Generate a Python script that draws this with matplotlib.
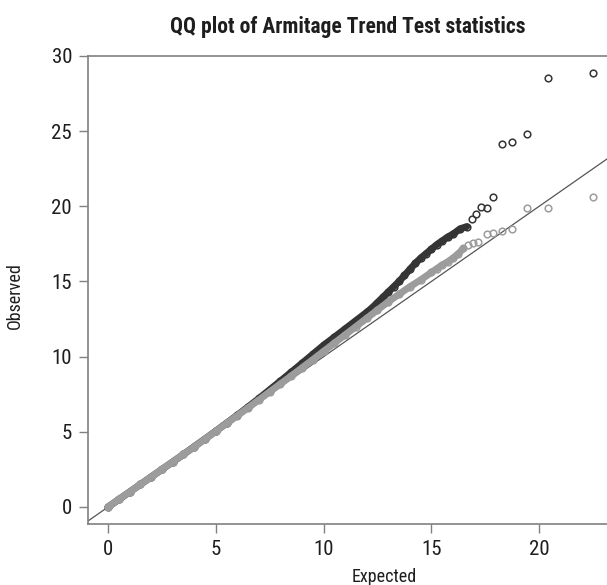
import matplotlib
matplotlib.use("Agg")
import matplotlib.pyplot as plt

plt.rcParams["font.family"] = ["Roboto Condensed", "DejaVu Sans"]

# Serie oscura (esperado, observado)
dark_expected = [0.0, 0.5, 1.0, 1.5, 2.0, 2.5, 3.0, 3.5, 4.0, 4.5, 5.0, 5.5, 6.0, 6.5,
                 7.0, 7.5, 8.0, 8.5, 9.0, 9.5, 10.0, 10.5, 11.0, 11.5, 12.0, 12.25,
                 12.5, 12.75, 13.0, 13.25, 13.5, 13.75, 14.0, 14.25, 14.5, 14.75, 15.0,
                 15.25, 15.5, 15.75, 16.0, 16.33, 16.64, 16.88, 17.08, 17.29, 17.57,
                 17.88, 18.28, 18.76, 19.43, 20.43, 22.49]
dark_observed = [0.0, 0.5, 1.0, 1.5, 2.0, 2.5, 3.0, 3.5, 4.02, 4.53, 5.05, 5.58, 6.11, 6.66,
                 7.22, 7.8, 8.38, 8.97, 9.56, 10.16, 10.76, 11.3, 11.85, 12.4, 12.95, 13.25,
                 13.6, 13.95, 14.3, 14.65, 15.0, 15.4, 15.8, 16.2, 16.55, 16.85, 17.15,
                 17.45, 17.7, 17.95, 18.15, 18.5, 18.65, 19.14, 19.47, 19.98, 19.91,
                 20.65, 24.13, 24.26, 24.82, 28.52, 28.86]
dark_dense = 43  # puntos que forman la banda continua

# Serie gris
gray_expected = [0.0, 0.5, 1.0, 1.5, 2.0, 2.5, 3.0, 3.5, 4.0, 4.5, 5.0, 5.5, 6.0, 6.5,
                 7.0, 7.5, 8.0, 8.5, 9.0, 9.5, 10.0, 10.5, 11.0, 11.5, 12.0, 12.5,
                 13.0, 13.5, 14.0, 14.5, 15.0, 15.25, 15.5, 15.75, 16.0, 16.25, 16.49,
                 16.72, 16.95, 17.18, 17.57, 17.88, 18.28, 18.76, 19.43, 20.40, 22.49]
gray_observed = [0.0, 0.5, 1.0, 1.5, 2.0, 2.5, 3.0, 3.5, 4.0, 4.52, 5.04, 5.56, 6.08, 6.6,
                 7.13, 7.66, 8.19, 8.72, 9.26, 9.8, 10.35, 10.9, 11.45, 12.0, 12.55, 13.1,
                 13.65, 14.15, 14.65, 15.1, 15.6, 15.85, 16.1, 16.3, 16.55, 16.85, 17.2,
                 17.43, 17.58, 17.62, 18.18, 18.21, 18.36, 18.48, 19.91, 19.91, 20.65]
gray_dense = 37

x_ticks = [0, 5, 10, 15, 20]
y_ticks = [0, 5, 10, 15, 20, 25, 30]

dark = "#353535"
gray = "#9c9c9c"
axis_gray = "#808080"
text_col = "#1e1e1e"

fig = plt.figure(figsize=(6.07, 5.85), dpi=100)
ax = fig.add_axes([0.145, 0.1043, 0.855, 0.8])

# linea de referencia y = x
ax.plot([-1, 24], [-1, 24], color="#555555", lw=0.9, zorder=1)

# banda densa + puntos
ax.plot(dark_expected[:dark_dense], dark_observed[:dark_dense], color=dark, lw=5,
        solid_capstyle="round", zorder=2)
ax.plot(dark_expected, dark_observed, "o", mfc="none", mec=dark, ms=4.8, mew=1.1, zorder=2)
ax.plot(gray_expected[:gray_dense], gray_observed[:gray_dense], color=gray, lw=5,
        solid_capstyle="round", zorder=3)
ax.plot(gray_expected, gray_observed, "o", mfc="none", mec=gray, ms=4.8, mew=1.1, zorder=3)

ax.set_xlim(-0.93, 23.15)
ax.set_ylim(-1.13, 30)
ax.set_xticks(x_ticks)
ax.set_yticks(y_ticks)
ax.tick_params(direction="out", length=6.5, width=1, color=axis_gray,
               labelsize=15, labelcolor=text_col, pad=5)

for side in ["left", "bottom", "top"]:
    ax.spines[side].set_color(axis_gray)
    ax.spines[side].set_linewidth(1.2)
ax.spines["right"].set_visible(False)

ax.set_xlabel("Expected", fontsize=13, color=text_col, va="center")
ax.xaxis.set_label_coords(0.570, -0.113)
ax.set_ylabel("Observed", fontsize=13, color=text_col, va="center")
ax.yaxis.set_label_coords(-0.141, 0.489)

fig.text(0.5725, 0.953, "QQ plot of Armitage Trend Test statistics", fontsize=15.5,
         fontweight="bold", color=text_col, ha="center", va="center")

plt.savefig("out.png", dpi=100)
